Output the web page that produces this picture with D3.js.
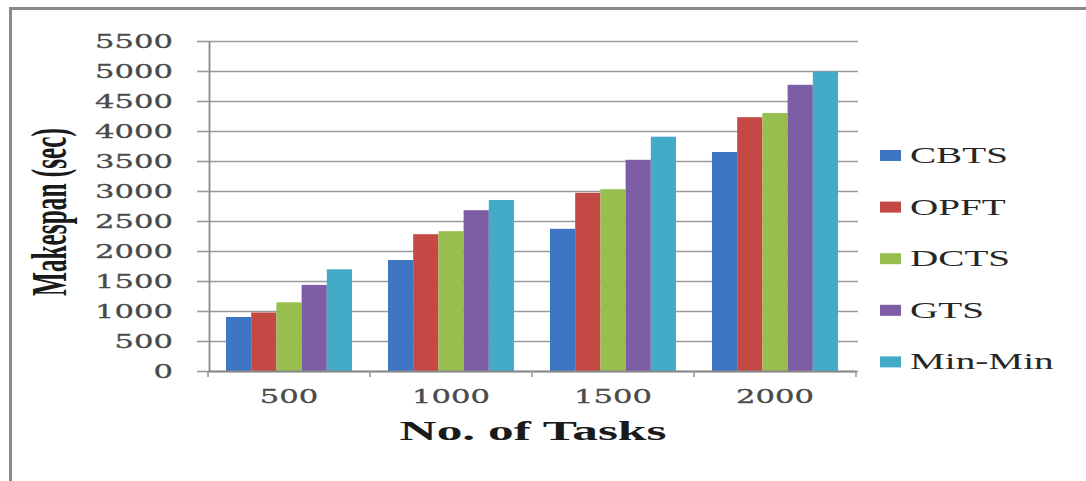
<!DOCTYPE html>
<html>
<head>
<meta charset="utf-8">
<script src="https://cdn.jsdelivr.net/npm/d3@7"></script>
<style>
  html, body { margin: 0; padding: 0; background: #ffffff; }
  svg { display: block; }
</style>
</head>
<body>
<svg id="chart" width="1086" height="481"></svg>
<script>
// Makespan per task count for each scheduling algorithm
const categories = ["500", "1000", "1500", "2000"];
const seriesNames = ["CBTS", "OPFT", "DCTS", "GTS", "Min-Min"];
const cbts   = [900, 1850, 2370, 3650];
const opft   = [975, 2280, 2970, 4230];
const dcts   = [1145, 2330, 3030, 4300];
const gts    = [1435, 2680, 3520, 4770];
const minMin = [1695, 2850, 3905, 4990];
const yTicks = [0, 500, 1000, 1500, 2000, 2500, 3000, 3500, 4000, 4500, 5000, 5500];
const colors = ["#3e76c4", "#c44844", "#98be50", "#7d5da5", "#43aac8"];

const seriesValues = [cbts, opft, dcts, gts, minMin];

const svg = d3.select("#chart");

// outer frame
svg.append("rect")
  .attr("x", 10.5).attr("y", 8.5)
  .attr("width", 1100).attr("height", 500)
  .attr("fill", "#ffffff")
  .attr("stroke", "#8a8a8a")
  .attr("stroke-width", 3);

const plotLeft = 209, plotRight = 858, plotTop = 41, plotBottom = 371;

const y = d3.scaleLinear().domain([0, 5500]).range([plotBottom, plotTop]);
const x0 = d3.scaleBand().domain(categories)
  .range([208, 856]).paddingInner(0.222).paddingOuter(0.111);
const x1 = d3.scaleBand().domain(seriesNames).range([0, x0.bandwidth()]);

// horizontal gridlines
const grid = svg.append("g").attr("transform", `translate(${plotLeft},0)`)
  .call(d3.axisLeft(y).tickValues(yTicks).tickSize(-(plotRight - plotLeft)).tickFormat(""));
grid.select(".domain").remove();
grid.selectAll("line").attr("stroke", "#9a9a9a").attr("stroke-width", 1.6);

// bars
const groups = svg.append("g").selectAll("g")
  .data(categories)
  .join("g")
  .attr("transform", d => `translate(${x0(d)},0)`);

groups.selectAll("rect")
  .data((c, i) => seriesNames.map((s, j) => ({ s, v: seriesValues[j][i], j })))
  .join("rect")
  .attr("x", d => x1(d.s))
  .attr("width", x1.bandwidth())
  .attr("y", d => y(d.v))
  .attr("height", d => y(0) - y(d.v))
  .attr("fill", d => colors[d.j]);

// helper: measure a text string at a given style
function measure(str, family, size, weight) {
  const t = svg.append("text").attr("font-family", family).attr("font-size", size)
    .attr("font-weight", weight).text(str);
  const w = t.node().getComputedTextLength();
  t.remove();
  return w;
}

const tickFont = "DejaVu Serif";
const tickSize = 19;
const tickSx = 78 / measure("5500", tickFont, tickSize, "normal");

// y axis
const yAxis = svg.append("g").attr("transform", `translate(${plotLeft},0)`)
  .call(d3.axisLeft(y).tickValues(yTicks).tickFormat(d3.format("d"))
    .tickSize(12).tickSizeOuter(0).tickPadding(0));
yAxis.select(".domain").attr("stroke", "#8a8a8a").attr("stroke-width", 1.8);
yAxis.selectAll(".tick line").attr("stroke", "#9a9a9a").attr("stroke-width", 1.6);
yAxis.selectAll(".tick text")
  .attr("font-family", tickFont)
  .attr("font-size", tickSize)
  .attr("fill", "#4a4a4a")
  .attr("stroke", "#4a4a4a")
  .attr("stroke-width", 0.3)
  .attr("text-anchor", "end")
  .attr("x", -36 / tickSx)
  .attr("dy", "0.36em")
  .attr("transform", `scale(${tickSx},1)`);

// x axis
const xAxis = svg.append("g").attr("transform", `translate(0,${plotBottom})`)
  .call(d3.axisBottom(x0).tickSize(0).tickSizeOuter(0).tickPadding(0));
xAxis.select(".domain").attr("stroke", "#8a8a8a").attr("stroke-width", 1.8);
xAxis.selectAll(".tick text")
  .attr("font-family", tickFont)
  .attr("font-size", tickSize)
  .attr("fill", "#4a4a4a")
  .attr("stroke", "#4a4a4a")
  .attr("stroke-width", 0.3)
  .attr("text-anchor", "middle")
  .attr("y", 32)
  .attr("dy", 0)
  .attr("transform", `scale(${tickSx},1)`)
  .attr("x", 0);

// category boundary tick marks
const [r0] = x0.range();
svg.append("g").selectAll("line")
  .data(d3.range(categories.length + 1))
  .join("line")
  .attr("x1", i => r0 + i * x0.step())
  .attr("x2", i => r0 + i * x0.step())
  .attr("y1", plotBottom)
  .attr("y2", plotBottom + 6)
  .attr("stroke", "#9a9a9a")
  .attr("stroke-width", 1.6);

// x axis title
const titleFont = "Liberation Serif";
const xTitle = "No. of Tasks";
const xTitleSx = 267 / measure(xTitle, titleFont, 27, "bold");
svg.append("text")
  .attr("transform", `translate(533,440) scale(${xTitleSx},1)`)
  .attr("text-anchor", "middle")
  .attr("font-family", titleFont)
  .attr("font-size", 27)
  .attr("font-weight", "bold")
  .attr("fill", "#1a1a1a")
  .text(xTitle);

// y axis title
svg.append("text")
  .attr("transform", "translate(66,212) scale(1.78,1) rotate(-90)")
  .attr("text-anchor", "middle")
  .attr("font-family", titleFont)
  .attr("font-size", 28)
  .attr("font-weight", "bold")
  .attr("fill", "#1a1a1a")
  .attr("textLength", 168)
  .attr("lengthAdjust", "spacingAndGlyphs")
  .text("Makespan (sec)");

// legend
const legendSx = 98 / measure("CBTS", titleFont, 22.6, "normal");
const legend = svg.append("g").selectAll("g")
  .data(seriesNames)
  .join("g")
  .attr("transform", (d, i) => `translate(880,${155.5 + i * 51.6})`);
legend.append("rect")
  .attr("x", 0).attr("y", -5.5)
  .attr("width", 21).attr("height", 11)
  .attr("fill", (d, i) => colors[i]);
legend.append("text")
  .attr("transform", `translate(30,7.5) scale(${legendSx},1)`)
  .attr("font-family", titleFont)
  .attr("font-size", 22.6)
  .attr("fill", "#262626")
  .text(d => d);
</script>
</body>
</html>
